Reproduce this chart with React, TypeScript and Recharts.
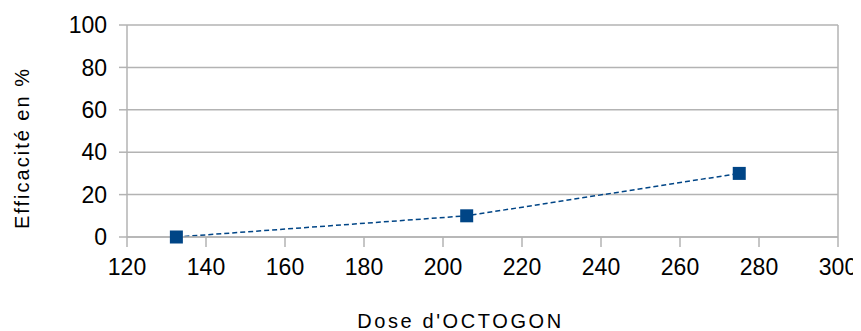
import {
  LineChart,
  Line,
  XAxis,
  YAxis,
  CartesianGrid,
  ReferenceLine,
} from "recharts";

// dose values (x) and efficacy in % (y)
const doses = [132.5, 206, 275];
const efficacy = [0, 10, 30];

const xTicks = [120, 140, 160, 180, 200, 220, 240, 260, 280, 300];
const yTicks = [0, 20, 40, 60, 80, 100];

const data = doses.map((d, i) => ({ dose: d, eff: efficacy[i] }));

const FONT = "'Liberation Sans', Arial, sans-serif";
const GRID = "#b3b3b3";
const BLUE = "#004586";

const SquareDot = (props: any) => {
  const { cx, cy } = props;
  if (cx == null || cy == null) return null;
  const s = 13;
  return <rect x={cx - s / 2} y={cy - s / 2} width={s} height={s} fill={BLUE} />;
};

export default function App() {
  return (
    <LineChart
      width={853}
      height={323}
      data={data}
      margin={{ top: 17, right: 23, bottom: 0, left: 0 }}
      style={{ fontFamily: FONT, overflow: "visible" }}
    >
      <CartesianGrid vertical={false} stroke={GRID} strokeWidth={1.5} />
      <XAxis
        type="number"
        dataKey="dose"
        domain={[120, 300]}
        ticks={xTicks}
        interval={0}
        height={94}
        stroke={GRID}
        strokeWidth={1.5}
        tickSize={10}
        tickMargin={12}
        tick={{ fill: "#000", fontSize: 23, fontFamily: FONT }}
        label={{
          content: ({ viewBox }: any) => (
            <text
              x={viewBox.x + viewBox.width / 2 - 22}
              y={viewBox.y + 84}
              textAnchor="middle"
              dominantBaseline="central"
              fontSize={20}
              letterSpacing={2.6}
              fill="#000"
              fontFamily={FONT}
            >
              Dose d'OCTOGON
            </text>
          ),
        }}
      />
      <YAxis
        type="number"
        domain={[0, 100]}
        ticks={yTicks}
        interval={0}
        width={119}
        stroke={GRID}
        strokeWidth={1.5}
        tickSize={8}
        tickMargin={12}
        tick={{ fill: "#000", fontSize: 23, fontFamily: FONT }}
        label={{
          content: ({ viewBox }: any) => {
            const x = 14;
            const y = viewBox.y + viewBox.height / 2 + 17;
            return (
              <text
                x={x}
                y={y}
                transform={`rotate(-90, ${x}, ${y})`}
                textAnchor="middle"
                dominantBaseline="central"
                fontSize={20}
                letterSpacing={2}
                fill="#000"
                fontFamily={FONT}
              >
                Efficacité en %
              </text>
            );
          },
        }}
      />
      <ReferenceLine x={300} stroke={GRID} strokeWidth={1.5} />
      <Line
        type="linear"
        dataKey="eff"
        stroke={BLUE}
        strokeWidth={1.5}
        strokeDasharray="5 3"
        dot={<SquareDot />}
        activeDot={false}
        isAnimationActive={false}
      />
    </LineChart>
  );
}
